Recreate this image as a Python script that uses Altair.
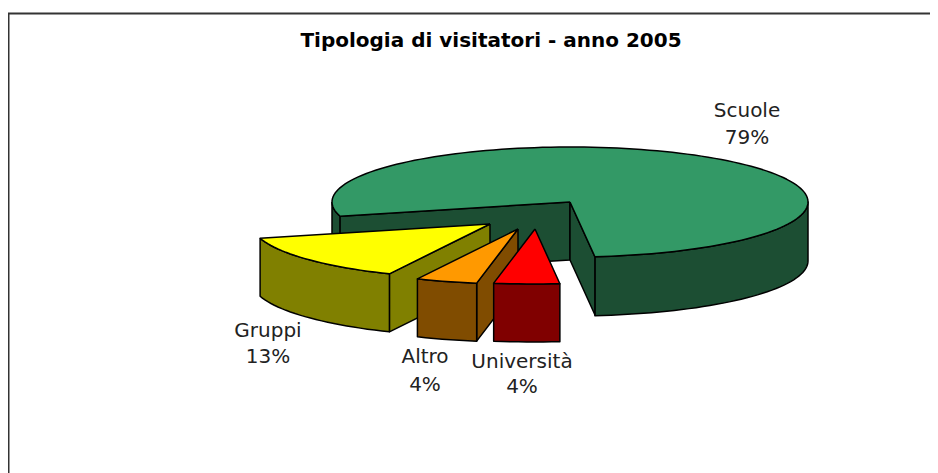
import math
import altair as alt
import pandas as pd

# Slice shares (percent) as labelled in the chart
categories = ["Scuole", "Gruppi", "Altro", "Università"]
shares = [79, 13, 4, 4]

# Picture-space geometry of the tilted pie
radius_x = 238
radius_y = 55
depth = 58
rim_depth_scuole = 59
# Slice edges, degrees round the tilted ellipse (0 = left, increasing through the front)
edges = {"Gruppi": (15, 65), "Altro": (65, 80), "Università": (80, 96), "Scuole": (96, 375)}
apex = {"Scuole": (570, 202), "Gruppi": (490, 224), "Altro": (518, 229), "Università": (535, 229)}

top_colors = {"Scuole": "#339966", "Gruppi": "#FFFF00", "Altro": "#FF9900", "Università": "#FF0000"}
side_colors = {"Scuole": "#1C4E33", "Gruppi": "#808000", "Altro": "#804C00", "Università": "#800000"}

title_text = "Tipologia di visitatori - anno 2005"
label_x = [747, 268, 425, 522]
label_y_name = [111, 331, 357, 362]
label_y_pct = [138, 357, 385, 387]

frame_left = 8.5
frame_top = 13.5
right_edge = 930
bottom_edge = 473


def rim(cat, a0, a1, dy=0, ry=radius_y):
    cx, cy = apex[cat]
    n = max(2, int(abs(a1 - a0) / 2) + 1)
    return [
        (cx - radius_x * math.cos(math.radians(a0 + (a1 - a0) * i / (n - 1))),
         cy + dy + ry * math.sin(math.radians(a0 + (a1 - a0) * i / (n - 1))))
        for i in range(n)
    ]


polys = []


def add(points, color):
    pid = len(polys)
    polys.append((pid, list(points) + [points[0]], color))


def wall(cat, a0, a1, dy=depth):
    up = rim(cat, a0, a1)
    down = rim(cat, a0, a1, dy)
    add(up + down[::-1], side_colors[cat])


def radial(cat, a, dy=depth):
    cx, cy = apex[cat]
    p = rim(cat, a, a)[0]
    add([(cx, cy), p, (p[0], p[1] + dy), (cx, cy + dy)], side_colors[cat])


# Scuole: outer rim walls, the two cut walls, then the top face
a0, a1 = edges["Scuole"]
wall("Scuole", a0, 180, rim_depth_scuole)
wall("Scuole", 360, a1, rim_depth_scuole)
radial("Scuole", a1)
radial("Scuole", a0)
add([apex["Scuole"]] + rim("Scuole", a0, a1), top_colors["Scuole"])

# Gruppi
a0, a1 = edges["Gruppi"]
radial("Gruppi", a1)
wall("Gruppi", a0, a1)
add([apex["Gruppi"]] + rim("Gruppi", a0, a1), top_colors["Gruppi"])

# Altro
a0, a1 = edges["Altro"]
radial("Altro", a1)
wall("Altro", a0, a1)
add([apex["Altro"]] + rim("Altro", a0, a1), top_colors["Altro"])

# Università
a0, a1 = edges["Università"]
wall("Università", a0, a1)
add([apex["Università"]] + rim("Università", a0, a1), top_colors["Università"])

rows = []
for pid, pts, color in polys:
    for i, (x, y) in enumerate(pts):
        rows.append({"pid": pid, "i": i, "x": x, "y": y, "color": color})
df = pd.DataFrame(rows)

xs = alt.Scale(domain=[8, right_edge], nice=False, zero=False)
ys = alt.Scale(domain=[bottom_edge, 8], nice=False, zero=False)
X = alt.X("x:Q", scale=xs, axis=None)
Y = alt.Y("y:Q", scale=ys, axis=None)

faces = alt.Chart(df).mark_line(
    stroke="black", strokeWidth=1.5, strokeJoin="round", filled=True, interpolate="linear"
).encode(
    x=X, y=Y,
    fill=alt.Fill("color:N", scale=None),
    detail="pid:N",
    order="i:Q",
)

frame_df = pd.DataFrame({"x": [frame_left, frame_left, right_edge],
                         "y": [bottom_edge, frame_top, frame_top]})
frame_df["i"] = range(3)
frame = alt.Chart(frame_df).mark_line(stroke="#333333", strokeWidth=2).encode(x=X, y=Y, order="i:Q")

lab_rows = []
for c, s, lx, y1, y2 in zip(categories, shares, label_x, label_y_name, label_y_pct):
    lab_rows.append({"x": lx, "y": y1, "t": c})
    lab_rows.append({"x": lx, "y": y2, "t": f"{s}%"})
labels = alt.Chart(pd.DataFrame(lab_rows)).mark_text(
    font="DejaVu Sans", fontSize=20, color="#222222", align="center", baseline="middle"
).encode(x=X, y=Y, text="t:N")

title = alt.Chart(pd.DataFrame({"x": [491], "y": [41], "t": [title_text]})).mark_text(
    font="DejaVu Sans", fontSize=20, fontWeight="bold", color="black", align="center", baseline="middle"
).encode(x=X, y=Y, text="t:N")

chart = alt.layer(frame, faces, labels, title).properties(
    width=922, height=465, padding=0, autosize=alt.AutoSizeParams(type="none"), background="white"
).configure_view(stroke=None)

chart.save("out.html", embed_options={"renderer": "svg", "actions": False})
